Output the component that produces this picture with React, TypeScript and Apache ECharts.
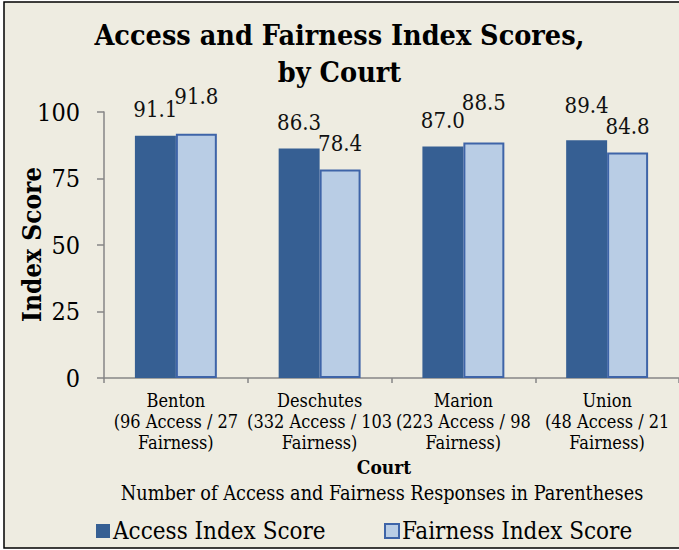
import React, { useEffect, useRef } from "react";
import * as echarts from "echarts";

const courts = [
  "Benton\n(96 Access / 27\nFairness)",
  "Deschutes\n(332 Access / 103\nFairness)",
  "Marion\n(223 Access / 98\nFairness)",
  "Union\n(48 Access / 21\nFairness)",
];
const accessScores = [91.1, 86.3, 87.0, 89.4];
const fairnessScores = [91.8, 78.4, 88.5, 84.8];
const yTicks = [0, 25, 50, 75, 100];

const FONT = "'DejaVu Serif Condensed', 'Liberation Serif', serif";

export default function App() {
  const ref = useRef<HTMLDivElement>(null);
  useEffect(() => {
    if (!ref.current) return;
    const chart = echarts.init(ref.current, null, { renderer: "svg" });
    const accessLift = [0, 0, 0, 9];
    const fairLift = [11, 0, 14, 0];
    const mk = (vals: number[], lift: number[]) =>
      vals.map((v, i) => ({ value: v, label: { offset: [0, -lift[i]] } }));
    const labelStyle = {
      show: true,
      position: "top",
      distance: 15,
      fontFamily: FONT,
      fontSize: 22,
      color: "#111",
      formatter: (p: any) => Number(p.value).toFixed(1),
    };
    chart.setOption({
      animation: false,
      backgroundColor: "#ffffff",
      textStyle: { fontFamily: FONT },
      title: {
        text: "Access and Fairness Index Scores,\nby Court",
        left: "center",
        top: 11,
        textStyle: {
          fontFamily: FONT,
          fontSize: 28.5,
          fontWeight: "bold",
          lineHeight: 37,
          color: "#000",
        },
      },
      graphic: [
        {
          type: "rect",
          z: -10,
          silent: true,
          shape: { x: 4, y: 2, width: 720, height: 546 },
          style: { fill: "#EEECE1", stroke: "#000", lineWidth: 1.5 },
        },
        {
          type: "text",
          rotation: Math.PI / 2,
          x: 19,
          y: 322,
          style: {
            text: "Index Score",
            font: `bold 26px ${FONT}`,
            fill: "#000",
          },
        },
        {
          type: "text",
          x: 384,
          y: 467,
          style: {
            text: "Court",
            font: `bold 19px ${FONT}`,
            fill: "#000",
            textAlign: "center",
            textVerticalAlign: "middle",
          },
        },
        {
          type: "text",
          x: 382,
          y: 493,
          style: {
            text: "Number of Access and Fairness Responses in Parentheses",
            font: `19.7px ${FONT}`,
            fill: "#000",
            textAlign: "center",
            textVerticalAlign: "middle",
          },
        },
      ],
      legend: [
        {
          data: ["Access Index Score"],
          left: 91,
          top: 514,
          itemWidth: 14,
          itemHeight: 14,
          icon: "rect",
          textStyle: { fontFamily: FONT, fontSize: 24, color: "#000", padding: [0, 0, 0, -2] },
        },
        {
          data: ["Fairness Index Score"],
          left: 379,
          top: 514,
          itemWidth: 14,
          itemHeight: 14,
          icon: "rect",
          textStyle: { fontFamily: FONT, fontSize: 24, color: "#000", padding: [0, 0, 0, -2] },
        },
      ],
      grid: { left: 104, right: -5, top: 112, bottom: 172, containLabel: false },
      xAxis: {
        type: "category",
        data: courts,
        axisLine: { lineStyle: { color: "#868686", width: 1.5 } },
        axisTick: { show: true, length: 5, lineStyle: { color: "#868686", width: 1.5 } },
        axisLabel: {
          fontFamily: FONT,
          fontSize: 18,
          lineHeight: 21,
          color: "#000",
          margin: 12,
          interval: 0,
        },
      },
      yAxis: {
        type: "value",
        min: yTicks[0],
        max: yTicks[yTicks.length - 1],
        interval: 25,
        splitLine: { show: false },
        axisLine: { show: true, lineStyle: { color: "#868686", width: 1.5 } },
        axisTick: { show: true, length: 7, lineStyle: { color: "#868686", width: 1.5 } },
        axisLabel: {
          fontFamily: FONT,
          fontSize: 25,
          color: "#000",
          margin: 24,
        },
      },
      series: [
        {
          name: "Access Index Score",
          type: "bar",
          data: mk(accessScores, accessLift),
          barGap: "0%",
          barCategoryGap: "43%",
          itemStyle: { color: "#365F93" },
          label: labelStyle,
        },
        {
          name: "Fairness Index Score",
          type: "bar",
          data: mk(fairnessScores, fairLift),
          barGap: "0%",
          barCategoryGap: "43%",
          itemStyle: { color: "#B9CDE5", borderColor: "#3E64A8", borderWidth: 2 },
          label: labelStyle,
        },
      ],
    });
    return () => chart.dispose();
  }, []);
  return (
    <div
      ref={ref}
      style={{ position: "fixed", left: 0, top: 0, width: 679, height: 550 }}
    />
  );
}
